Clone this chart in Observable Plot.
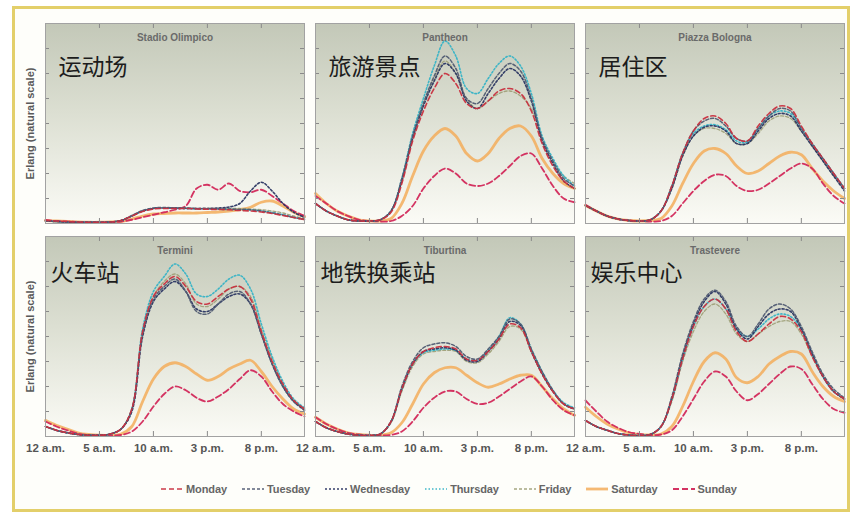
<!DOCTYPE html>
<html>
<head>
<meta charset="utf-8">
<script src="https://cdn.jsdelivr.net/npm/d3@7"></script>
<script src="https://cdn.jsdelivr.net/npm/@observablehq/plot@0.6"></script>
<style>
  body { margin: 0; background: #ffffff; }
  #page { position: relative; width: 852px; height: 514px; overflow: hidden;
          font-family: "Liberation Sans", Arial, sans-serif; }
  #frame { position: absolute; left: 12px; top: 6px; width: 838px; height: 506px; box-sizing: border-box;
           border: 3px solid #e3cf6a; background: #fefefa; }
  .panel { position: absolute; }
  #legend { position: absolute; left: 160px; top: 483px; display: flex; align-items: center; gap: 14px;
            font-size: 11px; font-weight: bold; color: #666; letter-spacing: -0.1px; }
  #legend .item { display: flex; align-items: center; gap: 2px; }
</style>
</head>
<body>
<div id="page">
  <div id="frame"></div>
  <div id="legend"></div>
</div>
<script>
// ---------- data ----------
const hours = [0,1,2,3,4,5,6,7,8,9,10,11,12,13,14,15,16,17,18,19,20,21,22,23,24];
const days = ["Monday","Tuesday","Wednesday","Thursday","Friday","Saturday","Sunday"];
const panelNames = ["Stadio Olimpico","Pantheon","Piazza Bologna","Termini","Tiburtina","Trastevere"];
const panelLabels = ["运动场","旅游景点","居住区","火车站","地铁换乘站","娱乐中心"];
const xTickValues = [0,5,10,15,20];
const xTickLabels = ["12 a.m.","5 a.m.","10 a.m.","3 p.m.","8 p.m."];
const yTickValues = [1,2,3,4,5,6,7];
const yLabel = "Erlang (natural scale)";

// rows: Monday..Sunday, hourly values 0..24
const olimpico = [
  [0.12,0.1,0.08,0.06,0.05,0.05,0.06,0.12,0.3,0.48,0.58,0.6,0.6,0.6,0.58,0.57,0.56,0.55,0.52,0.5,0.46,0.4,0.32,0.24,0.16],
  [0.1,0.08,0.06,0.05,0.05,0.05,0.06,0.12,0.32,0.52,0.62,0.64,0.62,0.62,0.6,0.6,0.58,0.58,0.56,0.55,0.5,0.42,0.34,0.24,0.16],
  [0.1,0.08,0.06,0.05,0.05,0.05,0.06,0.12,0.3,0.5,0.6,0.62,0.62,0.6,0.6,0.6,0.62,0.66,0.8,1.3,1.65,1.3,0.8,0.45,0.25],
  [0.1,0.08,0.06,0.05,0.05,0.05,0.06,0.12,0.3,0.5,0.6,0.62,0.6,0.6,0.58,0.58,0.57,0.56,0.55,0.54,0.5,0.44,0.35,0.25,0.16],
  [0.1,0.08,0.06,0.05,0.05,0.05,0.06,0.12,0.3,0.5,0.6,0.62,0.62,0.62,0.6,0.6,0.6,0.6,0.6,0.58,0.55,0.5,0.42,0.3,0.2],
  [0.12,0.1,0.08,0.06,0.05,0.05,0.06,0.08,0.18,0.3,0.38,0.4,0.42,0.42,0.42,0.44,0.46,0.5,0.56,0.65,0.85,0.9,0.7,0.45,0.28],
  [0.14,0.1,0.08,0.06,0.05,0.05,0.05,0.08,0.15,0.25,0.35,0.45,0.55,0.7,1.4,1.55,1.35,1.6,1.3,1.25,1.35,1.1,0.8,0.5,0.3]
];
const pantheon = [
  [0.8,0.5,0.3,0.15,0.1,0.1,0.15,0.45,1.6,3.3,4.5,5.4,6.0,5.6,4.8,4.6,4.9,5.3,5.4,5.2,4.5,3.2,2.3,1.7,1.4],
  [0.8,0.5,0.3,0.15,0.1,0.1,0.15,0.5,1.8,3.5,4.8,5.9,6.7,6.2,5.0,4.8,5.4,6.0,6.4,6.1,5.0,3.4,2.5,1.8,1.5],
  [0.8,0.5,0.3,0.15,0.1,0.1,0.15,0.5,1.7,3.4,4.7,5.7,6.4,6.0,4.9,4.6,5.2,5.8,6.2,5.9,4.9,3.3,2.4,1.7,1.4],
  [0.8,0.5,0.3,0.15,0.1,0.1,0.15,0.5,1.8,3.6,5.0,6.3,7.3,6.7,5.4,5.2,5.8,6.4,6.7,6.3,5.2,3.5,2.6,1.9,1.5],
  [0.8,0.5,0.3,0.15,0.1,0.1,0.15,0.5,1.7,3.4,4.8,5.8,6.5,6.0,5.0,4.6,4.9,5.2,5.3,5.1,4.6,3.4,2.5,1.9,1.6],
  [1.2,0.8,0.5,0.3,0.15,0.1,0.1,0.2,0.8,1.9,2.9,3.5,3.8,3.5,2.8,2.5,2.8,3.4,3.8,3.9,3.5,2.6,2.0,1.6,1.4],
  [1.1,0.8,0.5,0.3,0.15,0.1,0.08,0.1,0.3,0.7,1.4,1.9,2.2,2.0,1.6,1.5,1.6,1.9,2.3,2.7,2.8,2.2,1.5,1.0,0.85]
];
const bologna = [
  [0.72,0.5,0.3,0.18,0.12,0.1,0.15,0.5,1.5,2.8,3.7,4.2,4.3,4.0,3.4,3.3,3.9,4.4,4.7,4.6,3.9,3.2,2.6,2.0,1.4],
  [0.72,0.5,0.3,0.18,0.12,0.1,0.15,0.5,1.5,2.8,3.7,4.1,4.2,3.9,3.4,3.3,3.8,4.3,4.6,4.5,3.8,3.2,2.6,2.0,1.4],
  [0.72,0.5,0.3,0.18,0.12,0.1,0.15,0.5,1.4,2.7,3.5,3.85,3.9,3.7,3.2,3.2,3.7,4.2,4.4,4.3,3.7,3.1,2.5,1.9,1.3],
  [0.72,0.5,0.3,0.18,0.12,0.1,0.15,0.5,1.5,2.8,3.6,3.9,3.95,3.75,3.3,3.25,3.8,4.3,4.5,4.4,3.8,3.2,2.6,2.0,1.4],
  [0.72,0.5,0.3,0.18,0.12,0.1,0.15,0.5,1.4,2.7,3.5,3.8,3.8,3.6,3.2,3.2,3.6,4.1,4.3,4.2,3.7,3.1,2.5,1.9,1.4],
  [0.72,0.5,0.3,0.18,0.12,0.1,0.12,0.2,0.7,1.6,2.4,2.9,3.0,2.8,2.3,2.0,2.1,2.4,2.7,2.85,2.75,2.2,1.7,1.3,1.0],
  [0.75,0.5,0.3,0.18,0.12,0.1,0.08,0.1,0.3,0.8,1.3,1.7,1.95,1.9,1.5,1.3,1.35,1.6,1.9,2.2,2.4,2.2,1.6,1.1,0.8]
];
const termini = [
  [0.4,0.25,0.15,0.08,0.05,0.05,0.1,0.3,1.1,4.2,5.6,6.1,6.4,6.0,5.4,5.3,5.6,5.9,6.0,5.5,4.2,3.0,2.1,1.45,1.1],
  [0.4,0.25,0.15,0.08,0.05,0.05,0.1,0.3,1.1,4.1,5.5,6.0,6.3,5.8,5.0,4.9,5.3,5.7,5.8,5.3,4.1,2.9,2.0,1.4,1.1],
  [0.4,0.25,0.15,0.08,0.05,0.05,0.1,0.3,1.0,4.0,5.4,5.9,6.2,5.8,5.1,5.0,5.3,5.6,5.7,5.3,4.1,2.9,2.0,1.4,1.05],
  [0.4,0.25,0.15,0.08,0.05,0.05,0.1,0.3,1.1,4.3,5.8,6.4,6.9,6.5,5.7,5.6,5.9,6.3,6.45,5.9,4.5,3.2,2.2,1.5,1.15],
  [0.4,0.25,0.15,0.08,0.05,0.05,0.1,0.3,1.1,4.2,5.6,6.2,6.5,6.1,5.3,5.2,5.5,5.9,6.0,5.6,4.3,3.1,2.1,1.45,1.1],
  [0.65,0.45,0.3,0.15,0.08,0.05,0.05,0.1,0.4,1.4,2.3,2.8,2.95,2.8,2.5,2.25,2.4,2.7,2.9,3.05,2.6,2.0,1.5,1.1,0.9],
  [0.6,0.4,0.25,0.12,0.06,0.05,0.04,0.06,0.2,0.6,1.2,1.7,2.0,1.85,1.55,1.4,1.6,1.9,2.3,2.65,2.4,1.8,1.3,1.0,0.8]
];
const tiburtina = [
  [0.6,0.35,0.2,0.1,0.05,0.04,0.1,0.6,1.9,2.9,3.4,3.55,3.6,3.5,3.1,3.05,3.4,3.9,4.5,4.35,3.4,2.5,1.8,1.3,1.1],
  [0.6,0.35,0.2,0.1,0.05,0.04,0.1,0.6,2.0,3.0,3.55,3.7,3.75,3.6,3.2,3.1,3.5,4.0,4.7,4.5,3.5,2.6,1.85,1.3,1.1],
  [0.6,0.35,0.2,0.1,0.05,0.04,0.1,0.6,1.9,2.9,3.4,3.5,3.55,3.45,3.05,3.0,3.4,3.9,4.6,4.45,3.4,2.5,1.8,1.3,1.1],
  [0.6,0.35,0.2,0.1,0.05,0.04,0.1,0.6,1.9,2.9,3.35,3.45,3.5,3.45,3.1,3.05,3.45,4.0,4.75,4.5,3.5,2.6,1.85,1.35,1.15],
  [0.6,0.35,0.2,0.1,0.05,0.04,0.1,0.55,1.8,2.8,3.3,3.4,3.45,3.4,3.0,2.95,3.3,3.8,4.4,4.3,3.4,2.5,1.8,1.3,1.1],
  [0.77,0.5,0.3,0.15,0.08,0.05,0.05,0.15,0.55,1.3,2.1,2.55,2.75,2.75,2.45,2.15,1.97,2.1,2.3,2.45,2.45,2.0,1.5,1.1,0.85],
  [0.77,0.5,0.3,0.15,0.08,0.05,0.04,0.06,0.2,0.6,1.15,1.55,1.8,1.8,1.5,1.3,1.35,1.6,1.9,2.2,2.4,2.0,1.45,1.05,0.85]
];
const trastevere = [
  [0.64,0.4,0.25,0.12,0.06,0.04,0.08,0.4,1.5,3.1,4.4,5.2,5.5,5.1,4.2,3.8,4.1,4.5,4.8,4.7,4.2,3.2,2.4,1.8,1.5],
  [0.64,0.4,0.25,0.12,0.06,0.04,0.08,0.4,1.6,3.3,4.6,5.5,5.85,5.4,4.4,4.0,4.5,5.1,5.3,5.1,4.4,3.4,2.5,1.9,1.55],
  [0.64,0.4,0.25,0.12,0.06,0.04,0.08,0.4,1.5,3.2,4.5,5.4,5.8,5.3,4.3,3.9,4.4,4.9,5.1,5.0,4.3,3.3,2.4,1.8,1.5],
  [0.64,0.4,0.25,0.12,0.06,0.04,0.08,0.4,1.5,3.1,4.4,5.2,5.5,5.1,4.3,4.0,4.3,4.7,4.9,4.8,4.3,3.3,2.4,1.8,1.5],
  [0.64,0.4,0.25,0.12,0.06,0.04,0.08,0.4,1.4,3.0,4.2,5.0,5.3,4.9,4.1,3.8,4.1,4.4,4.6,4.6,4.1,3.2,2.4,1.8,1.5],
  [1.17,0.8,0.5,0.3,0.15,0.08,0.06,0.1,0.4,1.2,2.2,3.0,3.35,3.1,2.35,2.15,2.4,2.9,3.2,3.4,3.3,2.6,2.0,1.6,1.4],
  [1.44,1.0,0.6,0.35,0.18,0.1,0.06,0.08,0.25,0.8,1.5,2.2,2.6,2.4,1.8,1.45,1.7,2.1,2.5,2.8,2.7,2.1,1.5,1.1,0.95]
];
const panelData = [olimpico, pantheon, bologna, termini, tiburtina, trastevere];

// ---------- styles ----------
const dayStyle = {
  Monday:    {color: "#c8303f", dash: "5,3",   width: 1.6, opacity: 0.95},
  Tuesday:   {color: "#505b72", dash: "3,2",   width: 1.5, opacity: 0.95},
  Wednesday: {color: "#2a3562", dash: "2,2",   width: 1.6, opacity: 0.95},
  Thursday:  {color: "#36b3c6", dash: "1.5,2", width: 1.6, opacity: 0.95},
  Friday:    {color: "#a0a17a", dash: "3,2",   width: 1.3, opacity: 0.95},
  Saturday:  {color: "#f3ad5a", dash: null,    width: 2.8, opacity: 0.85},
  Sunday:    {color: "#d2285a", dash: "6,3",   width: 1.8, opacity: 0.95}
};
const drawOrder = ["Saturday","Sunday","Friday","Thursday","Wednesday","Tuesday","Monday"];
const fontStack = "Liberation Sans, Arial, sans-serif";

const PW = 259, PH = 200, ML = 36, MR = 6, MT = 1, MB = 26;
const panelX = [45, 315, 585], panelY = [23, 236];
const labelOf = new Map(xTickValues.map((v, i) => [v, xTickLabels[i]]));
const page = document.getElementById("page");

panelData.forEach((series, i) => {
  const col = i % 3, row = Math.floor(i / 3);
  const rows = [];
  series.forEach((vals, k) => vals.forEach((v, j) => rows.push({day: days[k], h: hours[j], v})));
  const marks = [
    Plot.frame({fill: `url(#pg${i})`, stroke: "none"}),
    ...drawOrder.map(day => {
      const s = dayStyle[day];
      return Plot.line(rows.filter(r => r.day === day), {
        x: "h", y: "v", stroke: s.color, strokeWidth: s.width,
        strokeDasharray: s.dash || undefined, strokeOpacity: s.opacity, curve: "catmull-rom"
      });
    }),
    Plot.tickX(xTickValues, {x: d => d, insetTop: PH - 5, stroke: "#8a8a8a"}),
    Plot.tickX(xTickValues, {x: d => d, insetBottom: PH - 5, stroke: "#8a8a8a"}),
    Plot.tickY(yTickValues, {y: d => d, insetRight: PW - 4, stroke: "#8a8a8a"}),
    Plot.tickY(yTickValues, {y: d => d, insetLeft: PW - 4, stroke: "#8a8a8a"}),
    Plot.frame({stroke: "#a2a2a2"}),
    Plot.text([panelNames[i]], {text: d => d, frameAnchor: "top", dy: 14, lineAnchor: "middle",
      fontSize: 10, fontWeight: "bold", fill: "#6a6a6a", fontFamily: fontStack}),
    Plot.text([panelLabels[i]], {text: d => d, frameAnchor: "top-left", textAnchor: "start", lineAnchor: "middle",
      dx: row === 0 ? 13 : 5, dy: row === 0 ? 44 : 37, fontSize: 23, fill: "#1c1c1c",
      fontWeight: "normal", fontFamily: "Noto Sans CJK SC"})
  ];
  if (col === 0) {
    marks.push(Plot.text([yLabel], {text: d => d, frameAnchor: "left", textAnchor: "middle", dx: -15, rotate: -90,
      fontSize: 11, fontWeight: "bold", fill: "#5a5a5a", fontFamily: fontStack}));
  }
  const svg = Plot.plot({
    width: PW + ML + MR, height: PH + MT + MB,
    marginLeft: ML, marginRight: MR, marginTop: MT, marginBottom: MB,
    x: {domain: [0, 24], axis: row === 1 ? "bottom" : null, ticks: xTickValues,
        tickFormat: d => labelOf.get(d), tickSize: 0, tickPadding: 7, label: null},
    y: {domain: [0, 8], axis: null},
    style: {background: "transparent", fontFamily: fontStack, fontSize: "11.5px", fontWeight: "bold",
            color: "#555", overflow: "visible"},
    marks
  });
  const defs = d3.select(svg).insert("defs", ":first-child");
  const g = defs.append("linearGradient").attr("id", "pg" + i)
    .attr("x1", 0).attr("y1", 0).attr("x2", 0).attr("y2", 1);
  [[0, "#c3c8b8"], [0.45, "#dcdfd2"], [1, "#fbfbf6"]].forEach(([o, c]) =>
    g.append("stop").attr("offset", o).attr("stop-color", c));
  svg.classList.add("panel");
  svg.style.left = (panelX[col] - ML) + "px";
  svg.style.top = (panelY[row] - MT) + "px";
  page.appendChild(svg);
});

// ---------- legend ----------
const legend = d3.select("#legend");
days.forEach(day => {
  const s = dayStyle[day];
  const item = legend.append("div").attr("class", "item");
  const sw = item.append("svg").attr("width", 24).attr("height", 10);
  sw.append("line").attr("x1", 1).attr("x2", 23).attr("y1", 5).attr("y2", 5)
    .attr("stroke", s.color).attr("stroke-width", s.width)
    .attr("stroke-dasharray", s.dash).attr("stroke-opacity", s.opacity);
  item.append("span").text(day);
});
</script>
</body>
</html>
